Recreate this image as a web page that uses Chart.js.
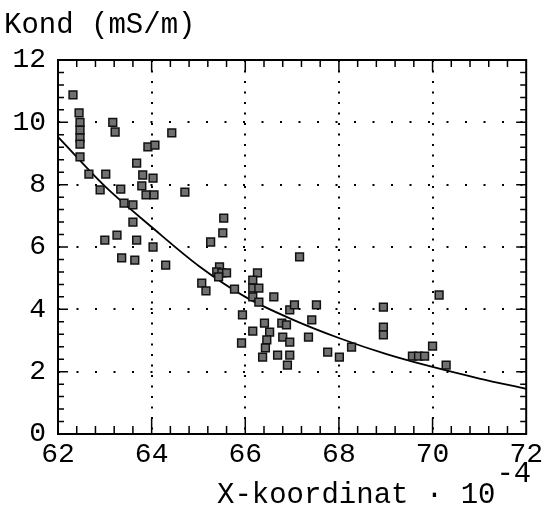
<!DOCTYPE html>
<html>
<head>
<meta charset="utf-8">
<script src="https://cdn.jsdelivr.net/npm/chart.js@4"></script>
<style>
  body { margin: 0; background: #fff; }
  canvas { display: block; }
</style>
</head>
<body>
<canvas id="kondChart" width="547" height="511"></canvas>
<script>
// measured points, X-koordinat (·10^-4) and Kond (mS/m)
const xKoord = [62.32, 62.45, 62.47, 62.47, 62.47, 62.47, 62.47, 62.66, 63.02, 62.9, 63.34,
    63.17, 63.22, 63.41, 63.6, 63.6, 63.68, 63.81, 63.79, 63.88, 64.05, 64.03, 63.92, 64.07,
    64.43, 64.71, 65.54, 65.52, 63.0, 63.26, 63.68, 64.03, 65.26, 63.36, 63.64, 64.3,
    65.45, 65.39, 65.5, 65.6, 65.43, 65.07, 65.16, 65.77, 67.16, 66.26, 66.16, 66.16, 66.16,
    66.29, 66.29, 66.61, 65.94, 66.16, 65.92, 66.41, 66.52, 66.46, 66.43, 66.37, 66.78,
    66.88, 66.8, 66.95, 66.69, 66.95, 66.9, 66.95, 67.05, 67.52, 67.42, 67.35, 67.76,
    68.01, 68.27, 68.95, 68.95, 68.95, 70.14, 70.0, 69.57, 69.7, 69.83, 70.29]
const kond = [10.88, 10.3, 10.0, 9.75, 9.5, 9.3, 8.89, 8.34, 8.34, 7.83, 7.86,
    10.0, 9.69, 7.41, 7.35, 6.8, 8.69, 8.31, 7.96, 7.67, 7.67, 8.21, 9.21, 9.27,
    9.66, 7.76, 6.93, 6.45, 6.22, 6.38, 6.22, 6.0, 6.16, 5.65, 5.58, 5.42,
    5.36, 5.2, 5.17, 5.17, 5.04, 4.84, 4.59, 4.65, 5.68, 5.17, 4.94, 4.68, 4.4,
    4.68, 4.23, 4.4, 3.82, 3.3, 2.92, 3.56, 3.27, 3.02, 2.76, 2.47, 3.56,
    3.5, 3.11, 2.95, 2.53, 2.53, 2.21, 3.98, 4.14, 4.14, 3.66, 3.11, 2.63,
    2.47, 2.79, 4.07, 3.43, 3.18, 4.46, 2.82, 2.5, 2.5, 2.5, 2.21]

// fitted curve
const curveX = [62, 63, 64, 65, 66, 67, 68, 69, 70, 71, 72]
const curveY = [9.53, 7.95, 6.64, 5.4, 4.4, 3.68, 3.08, 2.57, 2.15, 1.78, 1.45]

const xTicks = [62, 64, 66, 68, 70, 72]
const yTicks = [0, 2, 4, 6, 8, 10, 12]

const monoFont = "'Liberation Mono', 'Courier New', monospace"

// frame, inward tick marks and the axis titles
const framePlugin = {
    id: 'frame',
    afterDraw(chart) {
        const c = chart.ctx
        const a = chart.chartArea
        const xs = chart.scales.x
        const ys = chart.scales.y
        c.save()
        c.strokeStyle = '#000'
        c.lineWidth = 2
        c.strokeRect(a.left, a.top, a.right - a.left, a.bottom - a.top)

        c.lineWidth = 1.5
        c.beginPath()
        for (let i = 1; i < 25; i++) {
            let v = 62 + i * 0.4
            let px = xs.getPixelForValue(v)
            let major = i % 5 == 0
            c.moveTo(px, a.bottom)
            c.lineTo(px, a.bottom - (major ? 16 : 8))
            c.moveTo(px, a.top)
            c.lineTo(px, a.top + (major ? 11 : 7))
        }
        for (let i = 1; i < 30; i++) {
            let v = i * 0.4
            let py = ys.getPixelForValue(v)
            let major = i % 5 == 0
            c.moveTo(a.left, py)
            c.lineTo(a.left + (major ? 10 : 6), py)
            c.moveTo(a.right, py)
            c.lineTo(a.right - (major ? 10 : 6), py)
        }
        c.stroke()

        c.fillStyle = '#000'
        c.font = '29px ' + monoFont
        c.textBaseline = 'alphabetic'
        c.textAlign = 'left'
        c.fillText('Kond (mS/m)', 4, 33)
        let main = 'X-koordinat · 10'
        c.fillText(main, 217, 503)
        c.fillText('-4', 217 + c.measureText(main).width + 1, 482)
        c.restore()
    }
}

const ctx = document.getElementById('kondChart')
const kondChart = new Chart(ctx, {
    type: 'scatter',
    data: {
        datasets: [{
            label: 'Kond',
            data: xKoord.map((x, i) => ({ x: x, y: kond[i] })),
            pointStyle: 'rect',
            pointRadius: 5.5,
            backgroundColor: '#707070',
            borderColor: '#111',
            borderWidth: 1.5,
        },
        {
            label: 'kurva',
            type: 'line',
            data: curveX.map((x, i) => ({ x: x, y: curveY[i] })),
            borderColor: '#000',
            borderWidth: 1.8,
            pointRadius: 0,
            fill: false,
            cubicInterpolationMode: 'monotone',
        }]
    },
    options: {
        responsive: false,
        animation: false,
        layout: { padding: { top: 60, right: 20, left: 0, bottom: 0 } },
        plugins: {
            legend: { display: false },
            tooltip: { enabled: false },
        },
        scales: {
            x: {
                type: 'linear',
                min: 62,
                max: 72,
                afterFit: (s) => { s.height = 77 },
                afterBuildTicks: (s) => { s.ticks = xTicks.map(v => ({ value: v })) },
                ticks: {
                    autoSkip: false,
                    maxRotation: 0,
                    padding: 4,
                    color: '#000',
                    font: { family: monoFont, size: 28 },
                },
                grid: {
                    drawTicks: false,
                    lineWidth: 2,
                    color: (c) => (c.tick && (c.tick.value == 62 || c.tick.value == 72)) ? 'rgba(0,0,0,0)' : '#000',
                },
                border: { display: false, dash: [2, 8.5] },
            },
            y: {
                min: 0,
                max: 12,
                afterFit: (s) => { s.width = 58 },
                afterBuildTicks: (s) => { s.ticks = yTicks.map(v => ({ value: v })) },
                ticks: {
                    padding: 12,
                    color: '#000',
                    font: { family: monoFont, size: 28 },
                },
                grid: {
                    drawTicks: false,
                    lineWidth: 2,
                    color: (c) => (c.tick && (c.tick.value == 0 || c.tick.value == 12)) ? 'rgba(0,0,0,0)' : '#000',
                },
                border: { display: false, dash: [2, 16.5] },
            }
        }
    },
    plugins: [framePlugin]
})
</script>
</body>
</html>
